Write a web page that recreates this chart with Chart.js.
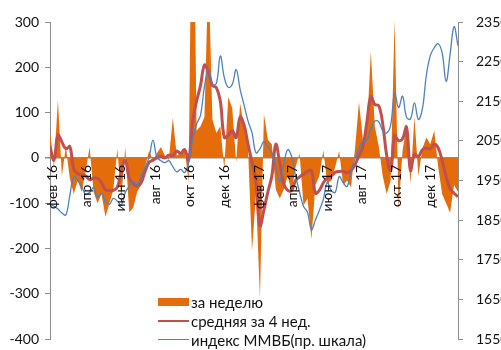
<!DOCTYPE html>
<html><head><meta charset="utf-8">
<script src="https://cdn.jsdelivr.net/npm/chart.js@4.4.0/dist/chart.umd.min.js"></script>
<style>
html,body{margin:0;padding:0;background:#fff;}
#wrap{position:relative;width:501px;height:350px;overflow:hidden;}
#legend{position:absolute;left:158px;top:293px;font:15px Lato, sans-serif;color:#111;}
.row{display:flex;align-items:center;height:18.7px;white-space:nowrap;}
.sw{width:31px;margin-right:2px;flex:none;}
</style></head><body>
<div id="wrap"><canvas id="c" width="501" height="350"></canvas><div id="legend"></div></div>
<script>
const weeks = ['2016-01-28','2016-02-04','2016-02-11','2016-02-18','2016-02-25','2016-03-03','2016-03-10','2016-03-17','2016-03-24','2016-03-31',
'2016-04-07','2016-04-14','2016-04-21','2016-04-28','2016-05-05','2016-05-12','2016-05-19','2016-05-26','2016-06-02','2016-06-09',
'2016-06-16','2016-06-23','2016-06-30','2016-07-07','2016-07-14','2016-07-21','2016-07-28','2016-08-04','2016-08-11','2016-08-18',
'2016-08-25','2016-09-01','2016-09-08','2016-09-15','2016-09-22','2016-09-29','2016-10-06','2016-10-13','2016-10-20','2016-10-27',
'2016-11-03','2016-11-10','2016-11-17','2016-11-24','2016-12-01','2016-12-08','2016-12-15','2016-12-22','2016-12-29','2017-01-05',
'2017-01-12','2017-01-19','2017-01-26','2017-02-02','2017-02-09','2017-02-16','2017-02-23','2017-03-02','2017-03-09','2017-03-16',
'2017-03-23','2017-03-30','2017-04-06','2017-04-13','2017-04-20','2017-04-27','2017-05-04','2017-05-11','2017-05-18','2017-05-25',
'2017-06-01','2017-06-08','2017-06-15','2017-06-22','2017-06-29','2017-07-06','2017-07-13','2017-07-20','2017-07-27','2017-08-03',
'2017-08-10','2017-08-17','2017-08-24','2017-08-31','2017-09-07','2017-09-14','2017-09-21','2017-09-28','2017-10-05','2017-10-12',
'2017-10-19','2017-10-26','2017-11-02','2017-11-09','2017-11-16','2017-11-23','2017-11-30','2017-12-07','2017-12-14','2017-12-21',
'2017-12-28','2018-01-04','2018-01-11','2018-01-18'];

const weeklyFlows = [57,-20,128,-40,25,-45,-80,-50,-75,-30,
24,-75,-100,-80,-130,-100,-70,20,-90,24,
-120,-110,-75,-60,-20,15,-5,10,24,5,
-5,88,5,10,20,-55,800,60,70,90,
420,85,55,70,-25,134,110,-10,120,65,
20,-205,-80,-310,97,40,30,-70,-90,-70,
-40,-75,-20,10,-105,-90,-180,-60,-40,17,
-57,-50,-20,15,-60,-50,-65,20,123,40,
60,235,70,25,-40,-80,-50,305,-115,15,
72,-57,90,-40,20,45,30,60,-20,-80,
-100,-121,-60,-75];

const avg4w = [25,-5,50,35,20,25,-25,-35,-38,-40,
-48,-45,-45,-55,-70,-72,-72,-65,-30,-5,
-45,-58,-62,-55,-30,-10,-5,0,3,0,
6,5,15,10,18,-5,80,125,160,205,
190,160,155,125,45,50,60,45,90,72,
30,-10,-55,-150,-115,-75,-40,30,-12,-57,
-72,-72,-50,-42,-36,-30,-28,-78,-72,-55,
-45,-40,-32,-30,-30,-33,-28,-15,5,25,
80,135,118,115,75,5,-28,50,38,42,
68,-28,8,3,18,22,20,30,22,-6,
-42,-68,-78,-86];

const micex = [1889,1885,1878,1868,1863,1912,1960,1950,1935,1915,
1920,1932,1908,1918,1897,1890,1905,1898,1888,1920,
1935,1948,1938,1960,1982,2008,2052,2008,2000,1995,
2000,1985,1972,1978,1970,1995,2055,2092,2115,2188,
2230,2192,2195,2264,2210,2185,2192,2230,2180,2140,
2100,2070,2020,2030,2048,2035,2020,1985,1948,1990,
2028,2010,1962,1920,1885,1870,1826,1850,1875,1902,
1945,1925,1920,1960,1945,1935,1972,2005,2030,2050,
2052,2080,2100,2098,2075,2070,2090,2171,2134,2163,
2110,2105,2146,2104,2130,2215,2265,2285,2295,2272,
2200,2268,2338,2290];

const tickLabels = ['фев 16','апр 16','июн 16','авг 16','окт 16','дек 16','фев 17','апр 17','июн 17','авг 17','окт 17','дек 17'];
const tickDates = ['2016-02-01','2016-04-01','2016-06-01','2016-08-01','2016-10-01','2016-12-01','2017-02-01','2017-04-01','2017-06-01','2017-08-01','2017-10-01','2017-12-01'];
const seriesNames = ['за неделю','средняя за 4 нед.','индекс ММВБ(пр. шкала)'];
const colors = ['#E46C0A','#C0504D','#4F81BD'];

const day = s => (Date.parse(s) - Date.parse(weeks[0])) / 864e5;
const pts = arr => weeks.map((w, i) => ({x: day(w), y: arr[i]}));

Chart.defaults.font.family = 'Lato, sans-serif';
Chart.defaults.font.size = 14;
Chart.defaults.color = '#111';
const axisGray = '#8c8c8c';

// draws the month labels of the x scale (rotated) just below the zero line of the left axis
const monthLabels = {
  id: 'monthLabels',
  afterDatasetsDraw(chart) {
    const xs = chart.scales.x, ys = chart.scales.y, ctx = chart.ctx;
    const y0 = ys.getPixelForValue(0);
    ctx.save();
    ctx.font = '14px Lato, sans-serif';
    ctx.fillStyle = '#111';
    ctx.textAlign = 'right';
    ctx.textBaseline = 'middle';
    tickDates.forEach((d, i) => {
      const x = xs.getPixelForValue(day(d));
      ctx.save();
      ctx.translate(x, y0 + 7);
      ctx.rotate(-Math.PI / 2);
      ctx.fillText(tickLabels[i], 0, 0);
      ctx.restore();
    });
    ctx.restore();
  }
};

const fitY = w => s => { s.width = w; s.paddingTop = 0; s.paddingBottom = 0; };

new Chart(document.getElementById('c'), {
  type: 'line',
  data: {
    datasets: [
      {label: seriesNames[0], data: pts(weeklyFlows), yAxisID: 'y', fill: 'origin',
       backgroundColor: colors[0], borderWidth: 0, borderColor: colors[0], pointRadius: 0, tension: 0, order: 3},
      {label: seriesNames[1], data: pts(avg4w), yAxisID: 'y', fill: false,
       borderColor: colors[1], borderWidth: 3, pointRadius: 0, tension: 0.4, order: 2},
      {label: seriesNames[2], data: pts(micex), yAxisID: 'y2', fill: false,
       borderColor: colors[2], borderWidth: 1.3, pointRadius: 0, tension: 0.4, order: 1}
    ]
  },
  plugins: [monthLabels],
  options: {
    responsive: false, animation: false,
    layout: {padding: {top: 22, bottom: 11, left: 0, right: 0}},
    plugins: {legend: {display: false}, tooltip: {enabled: false}},
    scales: {
      x: {
        type: 'linear', min: 0, max: day(weeks[weeks.length - 1]), display: false
      },
      y: {
        position: 'left', min: -400, max: 300, z: 1,
        ticks: {stepSize: 100, padding: 6, color: '#111', callback: v => String(v)},
        grid: {display: true, drawOnChartArea: true, drawTicks: true, tickLength: 5,
               color: c => (c.tick && c.tick.value === 0) ? axisGray : 'rgba(0,0,0,0)',
               lineWidth: c => (c.tick && c.tick.value === 0) ? 1.5 : 1,
               tickColor: axisGray},
        border: {color: axisGray, width: 1},
        afterFit: fitY(50)
      },
      y2: {
        position: 'right', min: 1550, max: 2350,
        ticks: {stepSize: 100, padding: 13, color: '#111', callback: v => String(v)},
        grid: {display: true, drawOnChartArea: false, drawTicks: true, tickLength: 5, color: axisGray},
        border: {color: axisGray, width: 1},
        afterFit: fitY(43)
      }
    }
  }
});

const leg = document.getElementById('legend');
seriesNames.forEach((name, i) => {
  const row = document.createElement('div'); row.className = 'row';
  const sw = document.createElement('div'); sw.className = 'sw';
  sw.style.height = i === 0 ? '8px' : (i === 1 ? '2.5px' : '1.5px');
  sw.style.background = colors[i];
  const t = document.createElement('span'); t.textContent = name;
  row.appendChild(sw); row.appendChild(t); leg.appendChild(row);
});
</script>
</body></html>
